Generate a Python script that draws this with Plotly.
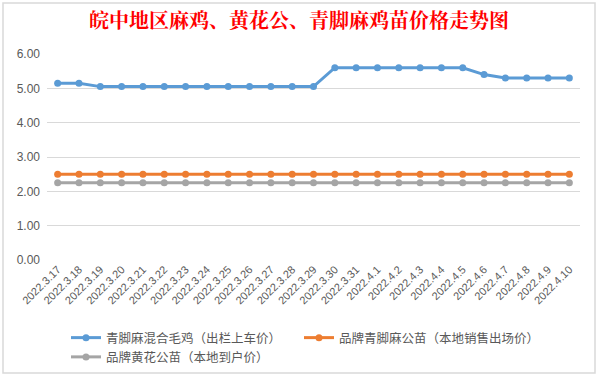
import plotly.graph_objects as go

dates = ["2022.3.17", "2022.3.18", "2022.3.19", "2022.3.20", "2022.3.21", "2022.3.22",
         "2022.3.23", "2022.3.24", "2022.3.25", "2022.3.26", "2022.3.27", "2022.3.28",
         "2022.3.29", "2022.3.30", "2022.3.31", "2022.4.1", "2022.4.2", "2022.4.3",
         "2022.4.4", "2022.4.5", "2022.4.6", "2022.4.7", "2022.4.8", "2022.4.9", "2022.4.10"]

qingjiao_mixed = [5.15, 5.15, 5.05, 5.05, 5.05, 5.05, 5.05, 5.05, 5.05, 5.05, 5.05, 5.05,
                  5.05, 5.6, 5.6, 5.6, 5.6, 5.6, 5.6, 5.6, 5.4, 5.3, 5.3, 5.3, 5.3]
brand_qingjiao_male = [2.5] * 25
brand_huanghua_male = [2.25] * 25

series_names = ["青脚麻混合毛鸡（出栏上车价）", "品牌青脚麻公苗（本地销售出场价）", "品牌黄花公苗（本地到户价）"]
series_colors = ["#5B9BD5", "#ED7D31", "#A5A5A5"]
y_ticks = [0, 1, 2, 3, 4, 5, 6]

W, H = 598, 377
L, R, T, B = 47, 18, 54, 117
pw, ph = W - L - R, H - T - B

def px_x(p):
    return (p - L) / pw

def px_y(p):
    return (H - B - p) / ph

fig = go.Figure()
for vals, name, col in zip([qingjiao_mixed, brand_qingjiao_male, brand_huanghua_male],
                           series_names, series_colors):
    fig.add_trace(go.Scatter(
        x=dates, y=vals, name=name, mode="lines+markers",
        line=dict(color=col, width=3),
        marker=dict(color=col, size=7),
        hoverinfo="skip",
    ))

fig.update_layout(
    width=W, height=H,
    margin=dict(l=L, r=R, t=T, b=B, autoexpand=False),
    paper_bgcolor="white", plot_bgcolor="white",
    showlegend=True,
    title=dict(text="<b>皖中地区麻鸡、黄花公、青脚麻鸡苗价格走势图</b>",
               x=0.5, xanchor="center", y=1 - 21 / H, yanchor="middle",
               font=dict(family="Noto Serif CJK SC, Noto Sans CJK SC", size=20, color="#FF0000")),
    xaxis=dict(type="category", tickangle=-45, showgrid=False, showline=False, automargin=False,
               ticks="", tickfont=dict(family="Liberation Sans", size=11, color="#595959"),
               range=[-0.5, len(dates) - 0.5]),
    yaxis=dict(range=[0, 6], tickvals=y_ticks, tickformat=".2f", automargin=False,
               showgrid=True, gridcolor="#D9D9D9", gridwidth=1, zeroline=False,
               showline=False, ticks="", ticklabelstandoff=6,
               tickfont=dict(family="Liberation Sans", size=12, color="#595959")),
    legend=dict(orientation="h", x=px_x(66), y=px_y(323), xanchor="left", yanchor="top",
                entrywidth=188, entrywidthmode="pixels", tracegroupgap=0,
                font=dict(family="Noto Sans CJK SC", size=12.5, color="#595959"),
                bgcolor="rgba(0,0,0,0)"),
    shapes=[dict(type="rect", xref="paper", yref="paper",
                 x0=px_x(3), x1=px_x(595), y0=px_y(373), y1=px_y(3),
                 line=dict(color="#D9D9D9", width=1.5), fillcolor="rgba(0,0,0,0)", layer="below")],
)

fig.write_html("out.html", config={"displayModeBar": False},
               post_script="document.body.style.margin='0';document.body.style.overflow='hidden';")
